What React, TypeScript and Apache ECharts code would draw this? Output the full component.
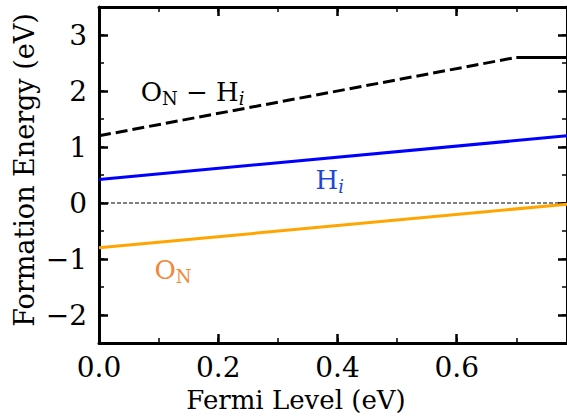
import React, { useEffect, useRef } from "react";
import * as echarts from "echarts";

// ---- data ----
const X_MIN = 0.0;
const X_MAX = 0.785;
const Y_MIN = -2.5;
const Y_MAX = 3.5;

// tick labels
const xTickVals = [0.0, 0.2, 0.4, 0.6];
const xTickLabels = ["0.0", "0.2", "0.4", "0.6"];
const yTickVals = [-2, -1, 0, 1, 2, 3];
const yTickLabels = ["\u22122", "\u22121", "0", "1", "2", "3"];

// O_N - H_i complex: sloped (dashed) part then flat (solid) part
const onHiX = [0.0, 0.7];
const onHiY = [1.2, 2.6];
const onHiFlatX = [0.7, 0.785];
const onHiFlatY = [2.6, 2.6];

// H_i
const hiX = [0.0, 0.785];
const hiY = [0.42, 1.2];

// O_N
const onX = [0.0, 0.785];
const onY = [-0.8, -0.02];

// zero reference line
const zeroX = [0.0, 0.785];
const zeroY = [0.0, 0.0];

// annotation labels: [x, y]
const labelOnHiPos = [0.157, 1.98];
const labelHiPos = [0.387, 0.41];
const labelOnPos = [0.124, -1.2];

const xTitle = "Fermi Level (eV)";
const yTitle = "Formation Energy (eV)";

const FONT = "DejaVu Serif";

function pairs(xs: number[], ys: number[]) {
  return xs.map((x, i) => [x, ys[i]]);
}

export default function App() {
  const ref = useRef<HTMLDivElement>(null);
  useEffect(() => {
    if (!ref.current) return;
    const chart = echarts.init(ref.current, null, { renderer: "svg" });
    const baseAxis = {
      type: "value" as const,
      splitLine: { show: false },
      axisLabel: { show: false },
    };
    const mainText = { fontFamily: FONT, fontSize: 26, lineHeight: 30 };
    const subText = { fontFamily: FONT, fontSize: 18, lineHeight: 12, verticalAlign: "bottom" };
    const rich = (color: string) => ({
      m: { ...mainText, color },
      s: { ...subText, color },
      mi: { ...mainText, color, fontStyle: "italic" },
      si: { ...subText, color, fontStyle: "italic" },
    });
    const mkLabel = (pos: number[], text: string, color: string) => ({
      coord: pos,
      symbol: "circle",
      symbolSize: 0,
      label: {
        show: true,
        position: "inside",
        fontFamily: FONT,
        formatter: text,
        rich: rich(color),
      },
    });
    const spine = { show: true, onZero: false, lineStyle: { color: "#000", width: 3 } };
    const noLine = { show: false, onZero: false };
    const majorTick = { show: true, inside: true, length: 9, lineStyle: { color: "#000", width: 2.5 } };
    const minorTick = { show: true, inside: true, length: 5, lineStyle: { color: "#000", width: 1.5 } };

    const xAx = (position: string, interval: number, major: boolean) => ({
      ...baseAxis,
      position,
      min: X_MIN,
      max: X_MAX,
      interval,
      axisLine: major ? spine : noLine,
      axisTick: major ? majorTick : minorTick,
    });
    const yAx = (position: string, major: boolean) => ({
      ...baseAxis,
      position,
      min: Y_MIN,
      max: Y_MAX,
      ...(major ? { splitNumber: 6 } : { interval: 0.5 }),
      axisLine: major ? spine : noLine,
      axisTick: major ? majorTick : minorTick,
    });

    chart.setOption({
      animation: false,
      textStyle: { fontFamily: FONT },
      grid: { left: 99, top: 7, width: 469, height: 336, containLabel: false },
      xAxis: [xAx("bottom", 0.2, true), xAx("top", 0.2, true), xAx("bottom", 0.1, false), xAx("top", 0.1, false)],
      yAxis: [yAx("left", true), yAx("right", true), yAx("left", false), yAx("right", false)],
      series: [
        {
          type: "line",
          data: pairs(zeroX, zeroY),
          symbol: "none",
          lineStyle: { color: "#000", width: 1, type: [4, 2] },
          z: 1,
        },
        {
          type: "line",
          data: pairs(onX, onY),
          symbol: "none",
          lineStyle: { color: "#ffa500", width: 3 },
          markPoint: { data: [mkLabel(labelOnPos, "{m|O}{s|N}", "#f0883a")] },
        },
        {
          type: "line",
          data: pairs(hiX, hiY),
          symbol: "none",
          lineStyle: { color: "#0000ff", width: 3 },
          markPoint: { data: [mkLabel(labelHiPos, "{m|H}{si|i}", "#1f45d6")] },
        },
        {
          type: "line",
          data: pairs(onHiX, onHiY),
          symbol: "none",
          lineStyle: { color: "#000", width: 3, type: [12, 5] },
          markPoint: {
            data: [mkLabel(labelOnHiPos, "{m|O}{s|N}{m| \u2212 H}{si|i}", "#000")],
          },
        },
        {
          type: "line",
          data: pairs(onHiFlatX, onHiFlatY),
          symbol: "none",
          lineStyle: { color: "#000", width: 3 },
        },
      ],
    });

    // tick labels and axis titles placed from the axes' own scales
    const px = (v: number) => chart.convertToPixel({ xAxisIndex: 0 }, v) as number;
    const py = (v: number) => chart.convertToPixel({ yAxisIndex: 0 }, v) as number;
    const left = px(X_MIN);
    const bottom = py(Y_MIN);
    const top = py(Y_MAX);
    const tickStyle = { fontFamily: FONT, fontSize: 28, fill: "#000" };
    const graphics: any[] = [];
    xTickVals.forEach((v, i) => {
      graphics.push({
        type: "text",
        x: px(v),
        y: bottom + 10,
        silent: true,
        style: { ...tickStyle, text: xTickLabels[i], align: "center", verticalAlign: "top" },
      });
    });
    yTickVals.forEach((v, i) => {
      graphics.push({
        type: "text",
        x: left - 12,
        y: py(v),
        silent: true,
        style: { ...tickStyle, text: yTickLabels[i], align: "right", verticalAlign: "middle" },
      });
    });
    graphics.push({
      type: "text",
      x: left + 197,
      y: bottom + 44,
      silent: true,
      style: { fontFamily: FONT, fontSize: 26, fill: "#000", text: xTitle, align: "center", verticalAlign: "top" },
    });
    graphics.push({
      type: "text",
      x: 24,
      y: (top + bottom) / 2 - 5,
      rotation: Math.PI / 2,
      silent: true,
      style: { fontFamily: FONT, fontSize: 27, fill: "#000", text: yTitle, align: "center", verticalAlign: "middle" },
    });
    chart.setOption({ graphic: graphics });

    return () => chart.dispose();
  }, []);
  return (
    <div
      ref={ref}
      style={{ position: "absolute", left: 0, top: 0, width: 567, height: 420, background: "#fff" }}
    />
  );
}
